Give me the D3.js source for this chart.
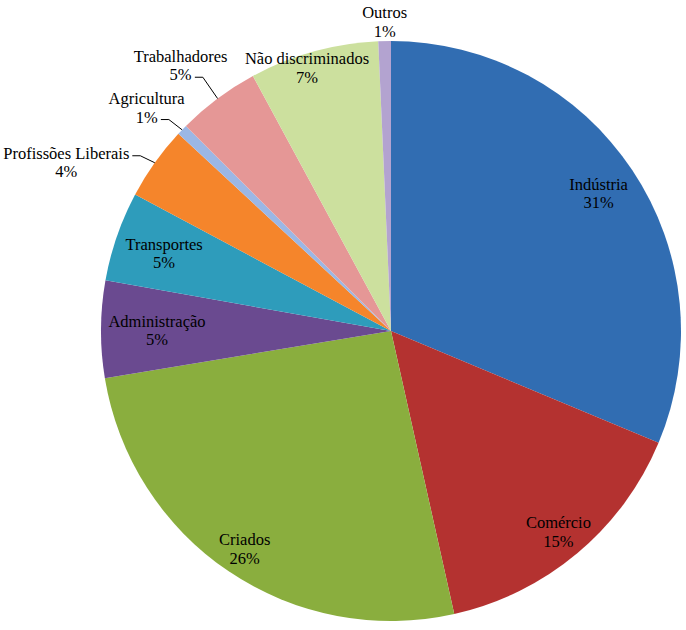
<!DOCTYPE html>
<html>
<head>
<meta charset="utf-8">
<script src="https://cdn.jsdelivr.net/npm/d3@7"></script>
<style>
  body { margin: 0; background: #fff; }
</style>
</head>
<body>
<div id="chart"></div>
<script>
// categories, clockwise from 12 o'clock
const categories = ["Indústria", "Comércio", "Criados", "Administração", "Transportes",
    "Profissões Liberais", "Agricultura", "Trabalhadores", "Não discriminados", "Outros"];
// share of total, percent
const shares = [31.3, 15.2, 25.9, 5.4, 5.0, 4.1, 0.6, 4.6, 7.2, 0.7];
const colors = ["#316db2", "#b43230", "#8aae3e", "#6a4a90", "#2e9cbb",
    "#f5852b", "#9bb7e5", "#e59796", "#cce09e", "#b3a3d0"];

const width = 686;
const height = 630;
const cx = 391, cy = 331, radius = 290;
const lineGap = 18.7;

// label placement (fraction of radius for labels inside the pie)
const insideR = {
    "Indústria": .86, "Comércio": .899, "Criados": .902, "Administração": .807,
    "Transportes": .828, "Não discriminados": .943
};
// small sideways shift so a long label stays off the neighbouring slice
const nudge = {"Não discriminados": [-11, 0]};
// labels outside: offset of label centre / first baseline from the slice edge point
const outside = {
    "Outros": [0, -23],
    "Trabalhadores": [-37, -37],
    "Agricultura": [-35.5, -26],
    "Profissões Liberais": [-88.5, -4]
};

const data = categories.map((c, i) => ({name: c, value: shares[i], color: colors[i]}));

const svg = d3.select("#chart").append("svg")
    .attr("width", width)
    .attr("height", height);

const g = svg.append("g").attr("transform", `translate(${cx},${cy})`);

const pie = d3.pie().sort(null).value(d => d.value);
const arc = d3.arc().innerRadius(0).outerRadius(radius);
const arcs = pie(data);

g.selectAll("path")
    .data(arcs)
    .join("path")
    .attr("d", arc)
    .attr("fill", d => d.data.color);

const polar = (a, r) => [r * Math.sin(a), -r * Math.cos(a)];
const mid = d => (d.startAngle + d.endAngle) / 2;

arcs.forEach(d => {
    const name = d.data.name;
    const pct = Math.round(d.data.value) + "%";
    let x, y;
    if (insideR[name] !== undefined) {
        [x, y] = polar(mid(d), radius * insideR[name]);
        y = y - 3;
        if (nudge[name]) { x += nudge[name][0]; y += nudge[name][1]; }
    } else {
        const e = polar(mid(d), radius);
        const o = outside[name];
        x = e[0] + o[0];
        y = e[1] + o[1];
    }
    const t = g.append("text")
        .attr("text-anchor", "middle")
        .style("font-family", '"Liberation Serif", serif')
        .style("font-size", "16.5px")
        .style("fill", "#000");
    const l1 = t.append("tspan").attr("x", x).attr("y", y).text(name);
    const l2 = t.append("tspan").attr("x", x).attr("y", y + lineGap).text(pct);

    // leader lines for the small slices on the left
    if (outside[name] && name !== "Outros") {
        const e = polar(mid(d), radius);
        const right = l => { const b = l.node().getBBox(); return b.x + b.width; };
        let pick = [l2, y + lineGap];
        if (right(l1) < e[0] - 15) pick = [l1, y];
        const sx = right(pick[0]) + 3, sy = pick[1] - 3;
        g.append("path")
            .attr("d", d3.line()([[sx, sy], [sx + 8, sy], e]))
            .attr("fill", "none")
            .attr("stroke", "#000")
            .attr("stroke-width", 1);
    }
});
</script>
</body>
</html>
